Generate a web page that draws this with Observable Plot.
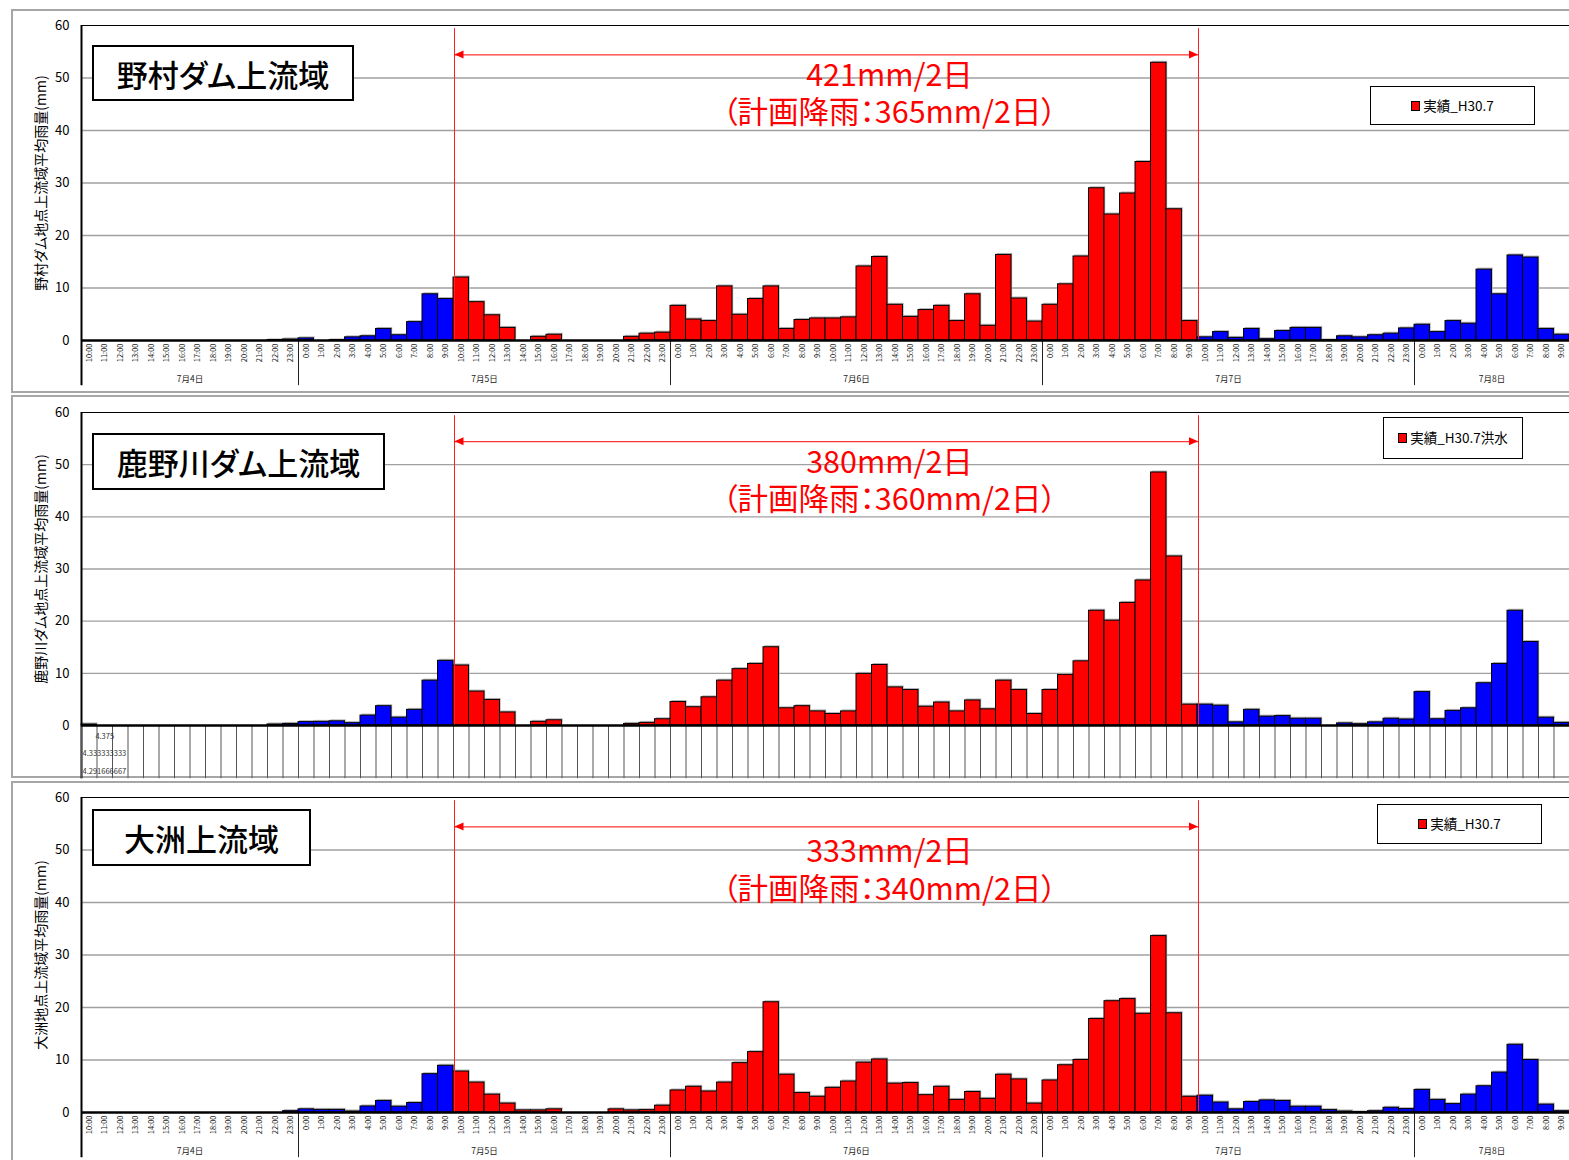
<!DOCTYPE html>
<html><head><meta charset="utf-8">
<script src="https://cdn.jsdelivr.net/npm/d3@7"></script>
<script src="https://cdn.jsdelivr.net/npm/@observablehq/plot@0.6"></script>
<style>
body{margin:0;background:#fff;font-family:'Noto Sans CJK JP',sans-serif;}
#root{position:relative;width:1569px;height:1160px;overflow:hidden;background:#fff;}
.frame{position:absolute;border:2px solid #a6a6a6;box-sizing:border-box;}
.plotwrap{position:absolute;left:11px;}
.plotwrap svg{max-width:none;overflow:visible;display:block;}
svg text,.title,.legend{font-feature-settings:"palt";}
.title{position:absolute;border:2.5px solid #000;background:#fff;box-sizing:border-box;display:flex;align-items:center;justify-content:center;font-size:31px;font-weight:500;color:#000;line-height:1;}
.legend{position:absolute;border:1.5px solid #000;background:#fff;box-sizing:border-box;display:flex;align-items:center;justify-content:center;font-size:13.5px;color:#000;line-height:1;}
.legend .sw{width:7px;height:8px;background:#f00;border:1px solid #000;margin-right:3px;}
</style></head><body><div id="root"></div>
<script>
// ---- categories ----
const dayLabels = ["7月4日","7月5日","7月6日","7月7日","7月8日"];
const hourLabels = [
 "10:00","11:00","12:00","13:00","14:00","15:00","16:00","17:00","18:00","19:00","20:00","21:00","22:00","23:00",
 "0:00","1:00","2:00","3:00","4:00","5:00","6:00","7:00","8:00","9:00","10:00","11:00","12:00","13:00","14:00","15:00","16:00","17:00","18:00","19:00","20:00","21:00","22:00","23:00",
 "0:00","1:00","2:00","3:00","4:00","5:00","6:00","7:00","8:00","9:00","10:00","11:00","12:00","13:00","14:00","15:00","16:00","17:00","18:00","19:00","20:00","21:00","22:00","23:00",
 "0:00","1:00","2:00","3:00","4:00","5:00","6:00","7:00","8:00","9:00","10:00","11:00","12:00","13:00","14:00","15:00","16:00","17:00","18:00","19:00","20:00","21:00","22:00","23:00",
 "0:00","1:00","2:00","3:00","4:00","5:00","6:00","7:00","8:00","9:00"
];
const periodStartKey = "7月5日 10:00";
const periodEndKey = "7月7日 10:00";
const yTicks = [0,10,20,30,40,50,60];

// ---- series values (mm/h) ----
const nomura = [
 0,0,0,0,0,0,0,0,0,0,0,0,0.1,0.2,
 0.4,0,0.1,0.6,0.8,2.2,1.0,3.5,8.8,7.9,12.0,7.3,4.8,2.4,0,0.7,1.1,0,0,0,0,0.7,1.3,1.5,
 6.6,4.0,3.7,10.3,4.9,7.9,10.3,2.2,3.9,4.2,4.2,4.4,14.1,15.9,6.8,4.5,5.8,6.6,3.7,8.8,2.8,16.3,8.0,3.6,
 6.8,10.7,16.0,29.0,24.0,28.0,34.0,52.9,25.0,3.7,0.6,1.6,0.5,2.2,0.25,1.8,2.4,2.4,0.1,0.8,0.6,1.0,1.3,2.3,
 3.0,1.6,3.7,3.2,13.5,8.8,16.2,15.8,2.2,1.1
];
const kanogawa = [
 0.2,0,0,0,0,0,0,0,0,0,0,0,0.2,0.3,
 0.65,0.7,0.8,0.45,1.9,3.7,1.5,3.0,8.6,12.4,11.5,6.5,4.9,2.5,0,0.7,1.0,0,0,0,0,0.3,0.5,1.2,
 4.5,3.5,5.4,8.6,10.8,11.8,15.0,3.3,3.7,2.7,2.2,2.7,9.9,11.6,7.3,6.8,3.6,4.4,2.7,4.8,3.1,8.6,6.8,2.2,
 6.8,9.7,12.3,22.0,20.1,23.5,27.8,48.5,32.4,4.0,4.0,3.8,0.6,3.0,1.7,1.8,1.3,1.3,0,0.4,0.25,0.6,1.3,1.15,
 6.4,1.2,2.8,3.3,8.1,11.8,22.0,16.0,1.5,0.5
];
const ozu = [
 0,0,0,0,0,0,0,0,0,0,0,0,0,0.25,
 0.6,0.5,0.5,0.2,1.15,2.2,1.1,1.8,7.3,8.9,7.8,5.7,3.4,1.7,0.4,0.4,0.6,0,0,0,0.6,0.4,0.45,1.3,
 4.2,4.9,4.0,5.7,9.4,11.5,21.0,7.2,3.7,3.0,4.7,5.9,9.5,10.1,5.5,5.6,3.3,4.9,2.4,3.9,2.6,7.2,6.3,1.7,
 6.1,9.0,10.0,17.8,21.2,21.6,18.8,33.6,18.9,3.0,3.2,1.9,0.6,2.0,2.3,2.2,1.1,1.1,0.45,0.2,0.1,0.25,0.9,0.65,
 4.3,2.4,1.6,3.4,5.0,7.6,12.9,10.0,1.5,0.25
];

// ---- texts ----
const titles = ["野村ダム上流域","鹿野川ダム上流域","大洲上流域"];
const yLabels = ["野村ダム地点上流域平均雨量(mm)","鹿野川ダム地点上流域平均雨量(mm)","大洲地点上流域平均雨量(mm)"];
const totals = ["421mm/2日","380mm/2日","333mm/2日"];
const plans = ["（計画降雨：365mm/2日）","（計画降雨：360mm/2日）","（計画降雨：340mm/2日）"];
const legendLabels = ["実績_H30.7","実績_H30.7洪水","実績_H30.7"];
const tableTexts = ["4.375","4.333333333","4.291666667"];

// ---- derived category structure ----
const dayIndex = [];
{ let d = 0; hourLabels.forEach((h,i)=>{ if (h === "0:00" && i > 0) d++; dayIndex.push(d); }); }
const keys = hourLabels.map((h,i)=>dayLabels[dayIndex[i]] + " " + h);
const pStart = keys.indexOf(periodStartKey);
const pEnd = keys.indexOf(periodEndKey);
const days = dayLabels.map((label,d)=>{
  const idx = dayIndex.map((v,i)=>v===d?i:-1).filter(i=>i>=0);
  return {label, start: idx[0], end: idx[idx.length-1]+1};
});
const N = hourLabels.length;

const root = document.getElementById("root");
const layouts = [
  {top:9, frameH:384, h:383, mt:16, mb:52, ticks:true,
   title:{l:92,t:45,w:262,h:56}, legend:{l:1370,t:86,w:165,h:39}, ty:[50.3,43.2]},
  {top:395, frameH:383, h:382, mt:17, mb:52, ticks:false,
   title:{l:92,t:433,w:293,h:57}, legend:{l:1383,t:417,w:140,h:42}, ty:[50.3,43.1]},
  {top:781, frameH:420, h:379, mt:16, mb:48, ticks:true,
   title:{l:92,t:809,w:219,h:57}, legend:{l:1377,t:804,w:165,h:40}, ty:[49.6,42.4]}
];
const series = [nomura, kanogawa, ozu];

series.forEach((vals, p) => {
  const L = layouts[p];
  const data = vals.map((v,i)=>({i, v, key: keys[i]}));
  const inPeriod = i => i >= pStart && i < pEnd;
  const arrowY = 54.4;
  const bottomY = p === 1 ? -10.2 : -8.6;

  const arrowHeads = (index, scales) => {
    const g = d3.create("svg:g");
    const y = scales.y(arrowY), xl = scales.x(pStart), xr = scales.x(pEnd);
    g.append("path").attr("d", `M${xl+1.5},${y}l9,-4l0,8z`).attr("fill","#ff0000");
    g.append("path").attr("d", `M${xr+1},${y}l-9,-4l0,8z`).attr("fill","#ff0000");
    return g.node();
  };

  const marks = [
    Plot.ruleY(yTicks.filter(t=>t>0 && t<60), {stroke:"#a0a0a0", strokeWidth:1.3}),
    Plot.rectY(data, {x1:"i", x2:d=>d.i+1, y:"v", fill:"#b4b4b4", dx:1.2, dy:-1.5}),
    Plot.rectY(data, {x1:"i", x2:d=>d.i+1, y:"v", fill:d=>inPeriod(d.i)?"#ff0000":"#0000ff", stroke:"#000", strokeWidth:1}),
    Plot.ruleY([60], {stroke:"#000", strokeWidth:1.2}),
    Plot.ruleX([pStart, pEnd], {y1:0, y2:59.4, stroke:"#ff2020", strokeWidth:1, dx:1}),
    Plot.link([{a:pStart, b:pEnd}], {x1:"a", x2:"b", y1:arrowY, y2:arrowY, stroke:"#ff0000", strokeWidth:1, dx:1}),
    arrowHeads,
    Plot.text([totals[p]], {x:(pStart+pEnd)/2 + 4, y:L.ty[0], dx:2, text:d=>d, fontSize:30.5, fill:"#ff0000"}),
    Plot.text([plans[p]], {x:(pStart+pEnd)/2 + 4, y:L.ty[1], dx:2, text:d=>d, fontSize:30.5, fill:"#ff0000"}),
    Plot.text([yLabels[p]], {frameAnchor:"left", textAnchor:"middle", dx:-40, rotate:-90, text:d=>d, fontSize:14, fill:"#000"}),
    Plot.ruleX([0], {y1:bottomY, y2:60, stroke:"#000", strokeWidth:2})
  ];
  if (L.ticks) {
    marks.push(
      Plot.ruleX(days.slice(1).map(d=>d.start), {y1:0, y2:bottomY, stroke:"#222", strokeWidth:1}),
      Plot.text(data, {x:d=>d.i+0.5, y:0, dy:3, text:d=>hourLabels[d.i], rotate:-90, textAnchor:"end", fontSize:7.5, fill:"#222"}),
      Plot.text(days, {x:d=>(d.start+d.end)/2, y:0, dy:39, text:"label", fontSize:8.5, fill:"#222"})
    );
  } else {
    marks.push(
      Plot.ruleX(data.map(d=>d.i).concat([N]), {y1:0, y2:bottomY, stroke:"#555", strokeWidth:1}),
      Plot.text([tableTexts[0]], {x:1.5, y:-2.1, text:d=>d, fontSize:7.5, fill:"#333"}),
      Plot.text([tableTexts[1]], {x:0, dx:1, y:-5.4, text:d=>d, textAnchor:"start", fontSize:7.5, fill:"#333"}),
      Plot.text([tableTexts[2]], {x:0, dx:1, y:-8.8, text:d=>d, textAnchor:"start", fontSize:7.5, fill:"#333"})
    );
  }
  marks.push(Plot.ruleY([0], {stroke:"#000", strokeWidth:2.5}));

  const chart = Plot.plot({
    width:1558, height:L.h,
    marginLeft:70, marginRight:0, marginTop:L.mt, marginBottom:L.mb,
    x:{domain:[0,N], axis:null},
    y:{domain:[0,60], ticks:yTicks, tickSize:0, tickPadding:12, label:null, grid:false},
    style:{fontFamily:"'Noto Sans CJK JP', sans-serif", fontSize:"13px", background:"transparent", overflow:"visible"},
    marks
  });

  const frame = document.createElement("div");
  frame.className = "frame";
  Object.assign(frame.style, {left:"11px", top:L.top+"px", width:"1580px", height:L.frameH+"px"});
  root.appendChild(frame);

  const wrap = document.createElement("div");
  wrap.className = "plotwrap";
  wrap.style.top = L.top + "px";
  wrap.appendChild(chart);
  root.appendChild(wrap);

  const t = document.createElement("div");
  t.className = "title";
  Object.assign(t.style, {left:L.title.l+"px", top:L.title.t+"px", width:L.title.w+"px", height:L.title.h+"px"});
  t.textContent = titles[p];
  root.appendChild(t);

  const lg = document.createElement("div");
  lg.className = "legend";
  Object.assign(lg.style, {left:L.legend.l+"px", top:L.legend.t+"px", width:L.legend.w+"px", height:L.legend.h+"px"});
  const sw = document.createElement("span"); sw.className = "sw";
  const lt = document.createElement("span"); lt.textContent = legendLabels[p];
  lg.appendChild(sw); lg.appendChild(lt);
  root.appendChild(lg);
});
</script></body></html>
